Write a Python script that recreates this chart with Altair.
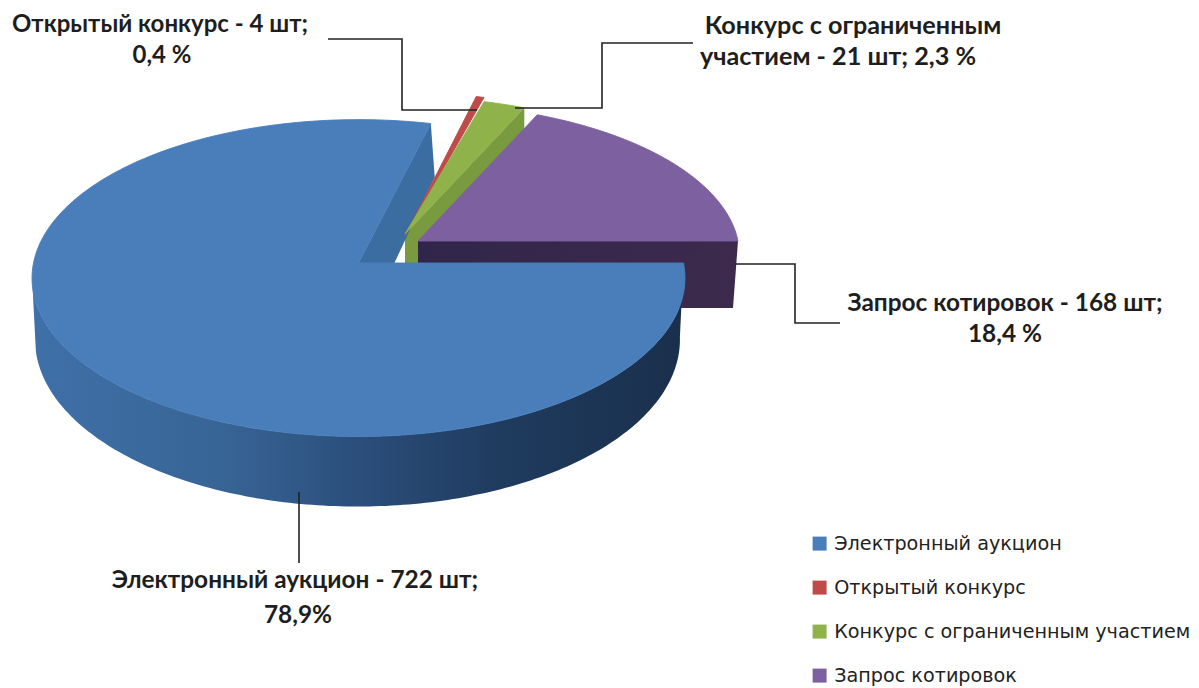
import math
import altair as alt
import pandas as pd

# ---- values ----
categories = ["Электронный аукцион", "Открытый конкурс", "Конкурс с ограниченным участием", "Запрос котировок"]
counts = [722, 4, 21, 168]
colors = ["#4a7ebb", "#be4b48", "#8fb24a", "#7d60a0"]

label_lines = ["Открытый конкурс - 4 шт;", "0,4 %", "Конкурс с ограниченным", "участием -  21 шт; 2,3 %",
               "Запрос котировок - 168 шт;", "18,4 %", "Электронный аукцион - 722 шт;", "78,9%"]
label_x = [160, 162, 853, 838, 1005, 1005, 295, 298]
label_y = [32, 63, 34, 65, 311, 342, 588, 623]
label_size = [24, 24, 25.2, 25.2, 24.4, 24.4, 24.4, 24.4]

leader_x = [[328, 402, 402, 477], [693, 602, 602, 515], [735, 795, 795, 840], [299, 299]]
leader_y = [[39, 39, 110, 110], [43, 43, 108, 108], [264, 264, 323, 323], [492, 563]]

M = 8  # page margin
W, H = 1183, 678
LABEL_FONT = "Lato"
LEGEND_FONT = "DejaVu Sans"

# per-slice placement of the perspective disc: apex x, apex y, rx, ry
placing = {0: (358.5, 263, 325, 157), 1: (405, 236, 320, 157), 2: (405, 234, 320, 150), 3: (418, 241, 320, 150)}
K = 0.095

total = sum(counts)
angles = []
a = 0.0
for c in counts:
    b = a - c / total * 360
    angles.append((a, b))
    a = b


def top_pt(i, deg, k=K):
    ax, ay, rx, ry = placing[i]
    u, v = math.cos(math.radians(deg)), math.sin(math.radians(deg))
    d = 1 + k * v
    return [ax + rx * u / d - M, ay - ry * v / d - M]


def blue_bottom(deg):
    ax, ay, rx, ry = placing[0]
    u, v = math.cos(math.radians(deg)), math.sin(math.radians(deg))
    d = 1 + 0.015 * v
    return [ax - 1 + rx * 0.992 * u / d - M, ay + 74 - 167 * v / d - M]


def arc(fn, a0, a1, step=1.0):
    n = max(2, int(abs(a1 - a0) / step))
    return [fn(a0 + (a1 - a0) * j / n) for j in range(n + 1)]


def feature(ring, name):
    ring = ring + [ring[0]]
    return {"type": "Feature", "properties": {"name": name},
            "geometry": {"type": "Polygon", "coordinates": [ring]}}


tops = []
for i, name in enumerate(categories):
    ax, ay = placing[i][:2]
    ring = [[ax - M, ay - M]] + arc(lambda d: top_pt(i, d), angles[i][0], angles[i][1])
    tops.append(feature(ring, name))


def shape(feats, fill):
    return alt.Chart(alt.Data(values=feats)).mark_geoshape(fill=fill, stroke=None, strokeWidth=0).project(
        type="identity", scale=1, translate=[0, 0])


# radial cut of the green slice
g0 = top_pt(2, angles[2][1])
ga = [placing[2][0] - M, placing[2][1] - M]
green_cut = shape([feature([ga, g0, [g0[0], g0[1] + 45], [ga[0], ga[1] + 70]], "g")], "#7a9a3f")

# radial cut of the purple slice (horizontal edge, facing the viewer)
p0 = top_pt(3, 0)
pa = [placing[3][0] - M, placing[3][1] - M]
purple_cut = shape([feature([pa, p0, [p0[0] - 5, p0[1] + 67], [pa[0], pa[1] + 67]], "p")],
                   {"gradient": "linear", "x1": 0, "x2": 1, "y1": 0, "y2": 0,
                    "stops": [{"offset": 0, "color": "#30264a"}, {"offset": 1, "color": "#3d2a4d"}]})

# blue slice: outer wall and radial cut
end = angles[0][1] + 360
wall_ring = arc(lambda d: top_pt(0, d), 0, -175) + arc(blue_bottom, -175, 0)
blue_wall = shape([feature(wall_ring, "b")],
                  {"gradient": "linear", "x1": 0, "x2": 1, "y1": 0, "y2": 0,
                   "stops": [{"offset": 0, "color": "#3f70a8"}, {"offset": 0.3, "color": "#376495"},
                             {"offset": 0.5, "color": "#2b4e7b"}, {"offset": 0.72, "color": "#1f3b5e"},
                             {"offset": 1, "color": "#1a2f4c"}]})
ba = [placing[0][0] - M, placing[0][1] - M]
bc = top_pt(0, end)
blue_cut = shape([feature([ba, bc, blue_bottom(end), [ba[0] + 1, ba[1] + 74]], "c")], "#3b6da1")

top_layer = alt.Chart(alt.Data(values=tops)).mark_geoshape(strokeWidth=0.9).encode(
    color=alt.Color("properties.name:N",
                    scale=alt.Scale(domain=categories, range=colors),
                    legend=alt.Legend(title=None, orient="none", legendX=810 - M, legendY=534 - M,
                                      symbolType="square", symbolSize=196, symbolStrokeWidth=0,
                                      labelFont=LEGEND_FONT, labelFontSize=19.2, labelColor="#222222",
                                      labelLimit=500, labelOffset=5, rowPadding=24, padding=0)),
    stroke=alt.Stroke("properties.name:N", scale=alt.Scale(domain=categories, range=colors), legend=None)
).project(type="identity", scale=1, translate=[0, 0])

lead_rows = []
for n, (xs, ys) in enumerate(zip(leader_x, leader_y)):
    for j, (x, y) in enumerate(zip(xs, ys)):
        lead_rows.append({"x": x - M, "y": y - M, "line": n, "j": j})
leaders = alt.Chart(pd.DataFrame(lead_rows)).mark_line(color="#222222", strokeWidth=1.6).encode(
    x=alt.X("x:Q", scale=None, axis=None),
    y=alt.Y("y:Q", scale=None, axis=None),
    detail="line:N", order="j:Q")

labels = alt.Chart(pd.DataFrame({"t": label_lines,
                                 "x": [v - M for v in label_x],
                                 "y": [v - M for v in label_y],
                                 "s": label_size})).mark_text(
    font=LABEL_FONT, fontWeight="bold", color="#1e1e1e", align="center", baseline="alphabetic"
).encode(x=alt.X("x:Q", scale=None, axis=None), y=alt.Y("y:Q", scale=None, axis=None),
         size=alt.Size("s:Q", scale=None, legend=None), text="t:N")

chart = alt.layer(green_cut, purple_cut, blue_wall, blue_cut, top_layer, leaders, labels).properties(
    width=W, height=H, padding=0, autosize=alt.AutoSizeParams(type="none"), background="white"
).configure_view(stroke=None)

chart.save("out.html", embed_options={"renderer": "svg", "actions": False})
